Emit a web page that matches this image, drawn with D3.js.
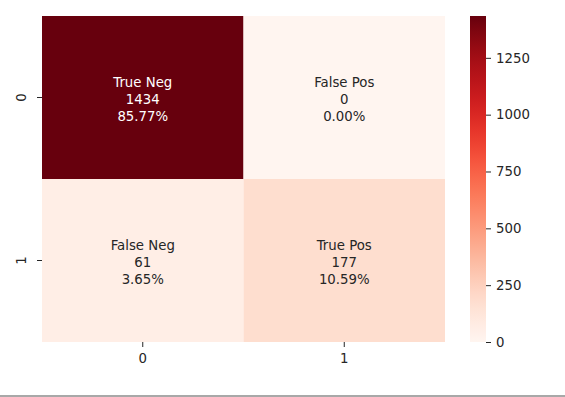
<!DOCTYPE html>
<html>
<head>
<meta charset="utf-8">
<script src="https://cdn.jsdelivr.net/npm/d3@7"></script>
<style>
  body { margin: 0; background: #fff; }
  text { font-family: "DejaVu Sans", sans-serif; }
</style>
</head>
<body>
<div id="chart"></div>
<script>
// confusion matrix values
var rowLabels = ["0", "1"];
var colLabels = ["0", "1"];
var cellNames = [["True Neg", "False Pos"], ["False Neg", "True Pos"]];
var counts = [[1434, 0], [61, 177]];
var percents = ["85.77%", "0.00%", "3.65%", "10.59%"];
var cbarTicks = [0, 250, 500, 750, 1000, 1250];

var width = 565, height = 397;
var plotLeft = 42, plotTop = 16, plotRight = 445, plotBottom = 342;
var fontSize = 13.3;

var svg = d3.select("#chart").append("svg")
  .attr("width", width)
  .attr("height", height);

var maxVal = d3.max(counts, function(r) { return d3.max(r); });
var color = d3.scaleSequential(d3.interpolateReds).domain([0, maxVal]);

var x = d3.scaleBand().domain(colLabels).range([plotLeft, plotRight]);
var y = d3.scaleBand().domain(rowLabels).range([plotTop, plotBottom]);

var cells = [];
counts.forEach(function(row, i) {
  row.forEach(function(v, j) {
    cells.push({ r: rowLabels[i], c: colLabels[j], v: v, name: cellNames[i][j], pct: percents[i * 2 + j] });
  });
});

var g = svg.selectAll("g.cell")
  .data(cells)
  .enter()
  .append("g")
  .attr("class", "cell");

g.append("rect")
  .attr("x", function(d) { return x(d.c); })
  .attr("y", function(d) { return y(d.r); })
  .attr("width", x.bandwidth())
  .attr("height", y.bandwidth())
  .attr("fill", function(d) { return color(d.v); });

g.each(function(d) {
  var cx = x(d.c) + x.bandwidth() / 2;
  var cy = y(d.r) + y.bandwidth() / 2 + 1.5;
  var fill = d.v > maxVal * 0.6 ? "#ffffff" : "#262626";
  var lines = [d.name, String(d.v), d.pct];
  d3.select(this).selectAll("text")
    .data(lines)
    .enter()
    .append("text")
    .attr("x", cx)
    .attr("y", function(t, k) { return cy + (k - 1) * 16.8; })
    .attr("dy", "0.36em")
    .attr("text-anchor", "middle")
    .attr("font-size", fontSize)
    .attr("fill", fill)
    .text(function(t) { return t; });
});

// x axis
var xAxis = svg.append("g")
  .attr("transform", "translate(0," + plotBottom + ")")
  .call(d3.axisBottom(x).tickSize(5).tickPadding(7));
xAxis.select(".domain").remove();
xAxis.selectAll("line").attr("stroke", "#262626");
xAxis.selectAll("text").attr("font-size", fontSize).attr("fill", "#262626")
  .style("font-family", "DejaVu Sans, sans-serif");

// y axis
var yAxis = svg.append("g")
  .attr("transform", "translate(" + plotLeft + ",0)")
  .call(d3.axisLeft(y).tickSize(5).tickPadding(5));
yAxis.select(".domain").remove();
yAxis.selectAll("line").attr("stroke", "#262626");
yAxis.selectAll("text")
  .attr("font-size", fontSize).attr("fill", "#262626")
  .style("font-family", "DejaVu Sans, sans-serif")
  .attr("text-anchor", "middle")
  .attr("x", 0).attr("dy", 0)
  .attr("transform", "translate(-21,0) rotate(-90)")
  .attr("dominant-baseline", "central");

// colorbar
var cbLeft = 470, cbW = 16;
var cy2 = d3.scaleLinear().domain([0, maxVal]).range([plotBottom, plotTop]);
var defs = svg.append("defs");
var grad = defs.append("linearGradient")
  .attr("id", "cbgrad")
  .attr("x1", 0).attr("y1", 1).attr("x2", 0).attr("y2", 0);
d3.range(0, 1.0001, 0.05).forEach(function(t) {
  grad.append("stop").attr("offset", t).attr("stop-color", color(t * maxVal));
});
svg.append("rect")
  .attr("x", cbLeft).attr("y", plotTop)
  .attr("width", cbW).attr("height", plotBottom - plotTop)
  .attr("fill", "url(#cbgrad)");

var cAxis = svg.append("g")
  .attr("transform", "translate(" + (cbLeft + cbW) + ",0)")
  .call(d3.axisRight(cy2).tickValues(cbarTicks).tickFormat(d3.format("d")).tickSize(5).tickPadding(5));
cAxis.select(".domain").remove();
cAxis.selectAll("line").attr("stroke", "#262626");
cAxis.selectAll("text").attr("font-size", fontSize).attr("fill", "#262626")
  .style("font-family", "DejaVu Sans, sans-serif");

// bottom separator line
svg.append("rect")
  .attr("x", 0).attr("y", 395)
  .attr("width", width).attr("height", 2)
  .attr("fill", "#a8a8a8");
</script>
</body>
</html>
